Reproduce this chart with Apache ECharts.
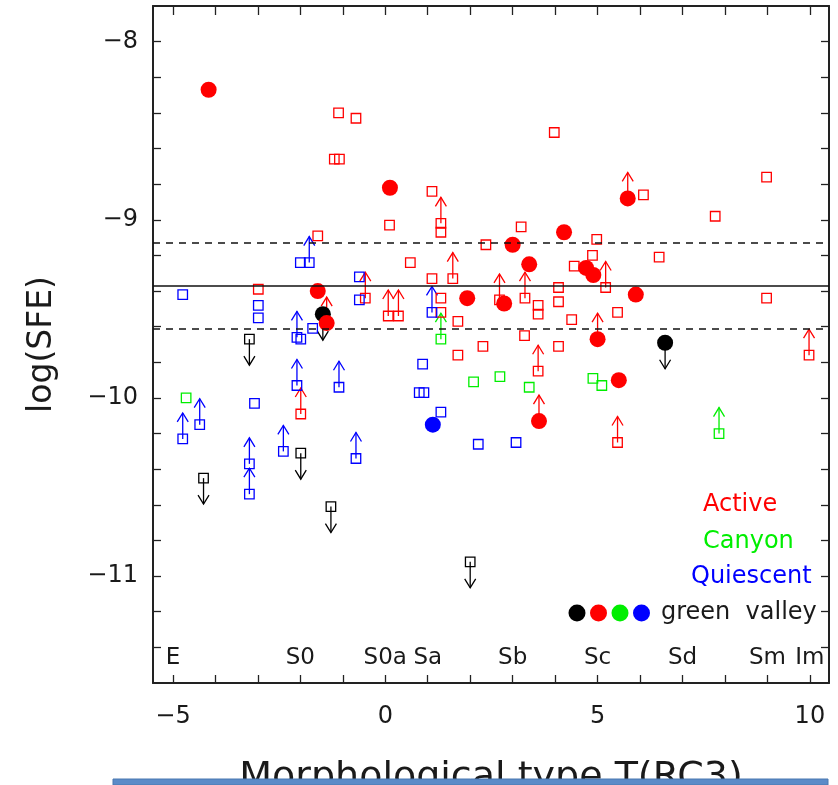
<!DOCTYPE html>
<html>
<head>
<meta charset="utf-8">
<script src="https://cdn.jsdelivr.net/npm/echarts@6/dist/echarts.min.js"></script>
<style>
  html, body { margin: 0; padding: 0; background: #fff; }
  #chart { width: 838px; height: 785px; }
</style>
</head>
<body>
<div id="chart"></div>
<script>
// morphological type T vs log(SFE)
var xTickValues = [-5, -4, -3, -2, -1, 0, 1, 2, 3, 4, 5, 6, 7, 8, 9, 10];
var xLabelValues = [-5, 0, 5, 10];
var yTickValues = [-11.4, -11.2, -11.0, -10.8, -10.6, -10.4, -10.2, -10.0, -9.8, -9.6, -9.4, -9.2, -9.0,
                   -8.8, -8.6, -8.4, -8.2, -8.0];
var yLabelValues = [-11, -10, -9, -8];

var typeNames = ['E', 'S0', 'S0a', 'Sa', 'Sb', 'Sc', 'Sd', 'Sm', 'Im'];
var typeT = [-5, -2, 0, 1, 3, 5, 7, 9, 10];

// mean and +-1 sigma
var meanLine = -9.37;
var sigmaLines = [-9.13, -9.61];

// open squares, "up" = lower limit (arrow up)
var activeSq = [[-1.10, -8.40], [-0.69, -8.43], [-1.20, -8.66], [-1.08, -8.66], [1.10, -8.84], [0.10, -9.03],
  [-1.59, -9.09], [0.59, -9.24], [2.37, -9.14], [1.10, -9.33], [-2.99, -9.39], [1.31, -9.44], [1.31, -9.52],
  [1.71, -9.57], [2.30, -9.71], [1.71, -9.76], [3.98, -8.51], [8.98, -8.76], [6.08, -8.86], [7.77, -8.98],
  [3.20, -9.04], [4.98, -9.11], [4.88, -9.20], [6.45, -9.21], [4.45, -9.26], [3.60, -9.48], [3.60, -9.53],
  [4.08, -9.38], [4.08, -9.46], [5.47, -9.52], [4.39, -9.56], [8.98, -9.44], [3.28, -9.65], [4.08, -9.71],
  [1.31, -9.07]];
var activeSqUp = [[1.31, -9.02], [1.59, -9.33], [-0.47, -9.44], [0.07, -9.54], [0.31, -9.54], [-1.99, -10.09],
  [5.19, -9.38], [2.69, -9.45], [3.29, -9.44], [3.60, -9.85], [5.47, -10.25], [9.98, -9.76]];
var canyonSq = [[-4.69, -10.00], [2.08, -9.91], [2.70, -9.88], [3.39, -9.94], [4.89, -9.89], [5.10, -9.93]];
var canyonSqUp = [[1.31, -9.67], [7.86, -10.20]];
var quiescentSq = [[-4.77, -9.42], [-2.00, -9.24], [-0.61, -9.32], [-0.61, -9.45], [-2.99, -9.48], [-2.99, -9.55],
  [-1.71, -9.61], [-1.99, -9.67], [-3.08, -10.03], [0.88, -9.81], [0.80, -9.97], [0.91, -9.97], [1.31, -10.08],
  [2.19, -10.26], [3.08, -10.25]];
var quiescentSqUp = [[-1.79, -9.24], [1.10, -9.52], [-2.08, -9.66], [-4.77, -10.23], [-4.37, -10.15],
  [-3.20, -10.37], [-3.20, -10.54], [-2.40, -10.30], [-2.08, -9.93], [-1.09, -9.94], [-0.69, -10.34]];
// upper limits (arrow down)
var limitSqDown = [[-3.20, -9.67], [-4.28, -10.45], [-1.99, -10.31], [-1.28, -10.61], [2.00, -10.92]];

// green valley (filled circles)
var gvActive = [[-4.16, -8.27], [0.11, -8.82], [-1.59, -9.40], [1.93, -9.44], [4.21, -9.07], [3.00, -9.14],
  [3.39, -9.25], [4.73, -9.27], [4.90, -9.31], [5.90, -9.42], [2.80, -9.47], [5.50, -9.90]];
var gvActiveUp = [[5.71, -8.88], [-1.38, -9.58], [5.00, -9.67], [3.62, -10.13]];
var gvLimitDown = [[-1.47, -9.53], [6.59, -9.69]];
var gvQuiescent = [[1.12, -10.15]];

var RED = '#ff0000', GREEN = '#00ee00', BLUE = '#0000ff', BLACK = '#000000';
var FONT = 'DejaVu Sans';
var TXT = '#1a1a1a';
var TYPE_LABEL_Y = -11.46;

function minus(v) {
    return (v < 0 ? '\u2212' : '') + Math.abs(v);
}

function squares(data, color) {
    return {
        type: 'scatter', data: data, symbol: 'rect', symbolSize: 9.5, z: 3,
        itemStyle: { color: 'rgba(0,0,0,0)', borderColor: color, borderWidth: 1.3, opacity: 1 }
    };
}

function dots(data, color) {
    return {
        type: 'scatter', data: data, symbol: 'circle', symbolSize: 16, z: 4,
        itemStyle: { color: color, opacity: 1 }
    };
}

// dir: 1 = up (lower limit), -1 = down (upper limit)
function arrows(data, color, dir) {
    return {
        type: 'custom', data: data, z: 3,
        encode: { x: 0, y: 1 },
        renderItem: function (params, api) {
            var p = api.coord([api.value(0), api.value(1)]);
            var tip = p[1] - dir * 26;
            var head = tip + dir * 9;
            return {
                type: 'group',
                children: [
                    { type: 'line', shape: { x1: p[0], y1: p[1], x2: p[0], y2: tip },
                      style: { stroke: color, lineWidth: 1.3 } },
                    { type: 'polyline', shape: { points: [[p[0] - 5.5, head], [p[0], tip], [p[0] + 5.5, head]] },
                      style: { stroke: color, lineWidth: 1.3, fill: null } }
                ]
            };
        }
    };
}

var chart = echarts.init(document.getElementById('chart'));

var axisLine = { show: true, onZero: false, lineStyle: { color: '#222', width: 2 } };
var tickStyle = { color: '#222', width: 1.3 };

var refLines = [{ yAxis: meanLine, lineStyle: { type: 'solid' } }];
sigmaLines.forEach(function (v) {
    refLines.push({ yAxis: v, lineStyle: { type: [7, 6] } });
});

var typeData = typeNames.map(function (n, i) { return [typeT[i], TYPE_LABEL_Y, n]; });

var series = [
    {
        type: 'scatter', data: typeData, symbolSize: 0, z: 2, silent: true,
        itemStyle: { opacity: 1 },
        label: { show: true, position: 'inside', formatter: function (p) { return p.data[2]; },
                 color: TXT, opacity: 1, fontSize: 23, fontFamily: FONT },
        markLine: {
            silent: true, symbol: 'none', label: { show: false },
            lineStyle: { color: '#111', width: 1.5 },
            data: refLines
        }
    },
    arrows(activeSqUp, RED, 1),
    arrows(canyonSqUp, GREEN, 1),
    arrows(quiescentSqUp, BLUE, 1),
    arrows(limitSqDown, BLACK, -1),
    arrows(gvActiveUp, RED, 1),
    arrows(gvLimitDown, BLACK, -1),
    squares(activeSq, RED),
    squares(activeSqUp, RED),
    squares(canyonSq, GREEN),
    squares(canyonSqUp, GREEN),
    squares(quiescentSq, BLUE),
    squares(quiescentSqUp, BLUE),
    squares(limitSqDown, BLACK),
    dots(gvLimitDown, BLACK),
    dots(gvActive, RED),
    dots(gvActiveUp, RED),
    dots(gvQuiescent, BLUE)
];

var legendText = [
    { text: 'Active', color: RED, left: 703, y: 505 },
    { text: 'Canyon', color: GREEN, left: 703, y: 542 },
    { text: 'Quiescent', color: BLUE, left: 691, y: 577 },
    { text: 'green  valley', color: TXT, left: 661, y: 613 }
];
var graphics = legendText.map(function (t) {
    return { type: 'text', x: t.left, y: t.y, z: 50,
             style: { text: t.text, fill: t.color, font: '24px "' + FONT + '"', verticalAlign: 'middle' } };
});
[BLACK, RED, GREEN, BLUE].forEach(function (c, i) {
    graphics.push({ type: 'circle', z: 50, shape: { cx: 577 + i * 21.5, cy: 613, r: 8.5 }, style: { fill: c } });
});
graphics.push({ type: 'rect', z: 100, shape: { x: 113, y: 779, width: 715, height: 6 },
                style: { fill: '#5b8bc8', stroke: '#4a78b0', lineWidth: 1 } });

chart.setOption({
    animation: false,
    backgroundColor: '#fff',
    grid: { left: 153, right: 9, top: 6, bottom: 102, containLabel: false, outerBoundsMode: 'none' },
    xAxis: [
        {
            type: 'value', min: -5.47, max: 10.45, position: 'bottom',
            axisLine: axisLine,
            axisTick: { show: true, inside: true, length: 8, lineStyle: tickStyle, customValues: xTickValues },
            axisLabel: { color: TXT, fontSize: 24, fontFamily: FONT, margin: 22,
                         customValues: xLabelValues, formatter: minus },
            splitLine: { show: false },
            name: 'Morphological type T(RC3)', nameLocation: 'middle', nameGap: 76,
            nameTextStyle: { color: TXT, fontSize: 38, fontFamily: FONT }
        },
        {
            type: 'value', min: -5.47, max: 10.45, position: 'top',
            axisLine: axisLine,
            axisTick: { show: true, inside: true, length: 9, lineStyle: tickStyle, customValues: xTickValues },
            axisLabel: { show: false },
            splitLine: { show: false }
        }
    ],
    yAxis: [
        {
            type: 'value', min: -11.6, max: -7.8, position: 'left',
            axisLine: axisLine,
            axisTick: { show: true, inside: true, length: 8, lineStyle: tickStyle, customValues: yTickValues },
            axisLabel: { color: TXT, fontSize: 24, fontFamily: FONT, margin: 15,
                         customValues: yLabelValues, formatter: minus },
            splitLine: { show: false },
            name: 'log(SFE)', nameLocation: 'middle', nameGap: 94,
            nameTextStyle: { color: TXT, fontSize: 33, fontFamily: FONT }
        },
        {
            type: 'value', min: -11.6, max: -7.8, position: 'right',
            axisLine: axisLine,
            axisTick: { show: true, inside: true, length: 8, lineStyle: tickStyle, customValues: yTickValues },
            axisLabel: { show: false },
            splitLine: { show: false }
        }
    ],
    series: series,
    graphic: graphics
});

window.addEventListener('resize', chart.resize);
</script>
</body>
</html>
